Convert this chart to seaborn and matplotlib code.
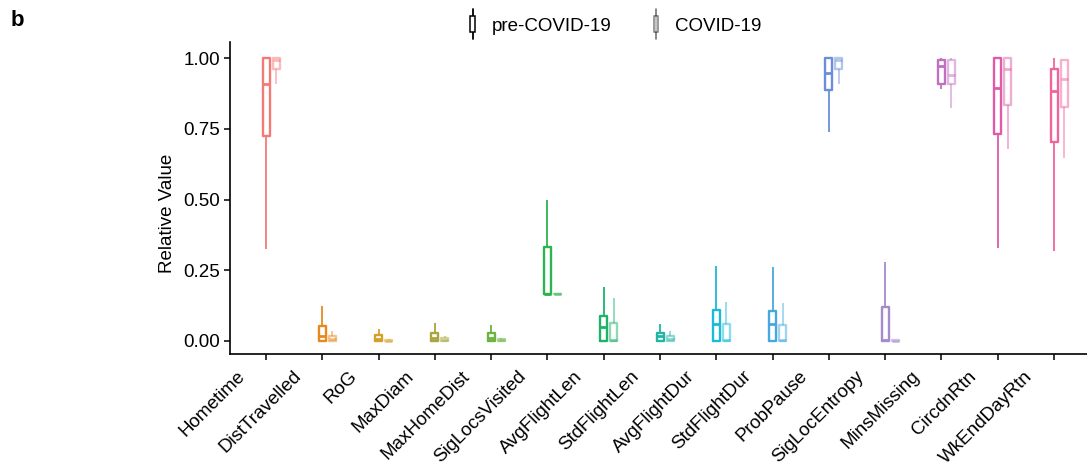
import numpy as np
import pandas as pd
import matplotlib
matplotlib.use("Agg")
import matplotlib.pyplot as plt
import matplotlib.transforms as mtransforms
from matplotlib.legend_handler import HandlerBase
from matplotlib.lines import Line2D
from matplotlib.patches import Rectangle
import seaborn as sns

# ---------------- data (five-number summaries) ----------------
features = ["Hometime", "DistTravelled", "RoG", "MaxDiam", "MaxHomeDist",
            "SigLocsVisited", "AvgFlightLen", "StdFlightLen", "AvgFlightDur",
            "StdFlightDur", "ProbPause", "SigLocEntropy", "MinsMissing",
            "CircdnRtn", "WkEndDayRtn"]
periods = ["pre-COVID-19", "COVID-19"]

# pre-COVID-19: lower whisker, Q1, median, Q3, upper whisker
pre_low = [0.325, 0.0, 0.0, 0.0, 0.0, 0.167, 0.0, 0.0, 0.0, 0.0, 0.74, 0.0, 0.89, 0.328, 0.319]
pre_q1 = [0.725, 0.0, 0.0, 0.0, 0.0, 0.167, 0.0, 0.0, 0.0, 0.0, 0.889, 0.0, 0.91, 0.73, 0.704]
pre_med = [0.908, 0.019, 0.008, 0.012, 0.012, 0.167, 0.05, 0.018, 0.06, 0.06, 0.948, 0.002, 0.972, 0.893, 0.883]
pre_q3 = [1.0, 0.054, 0.021, 0.03, 0.027, 0.333, 0.089, 0.027, 0.11, 0.107, 1.0, 0.121, 0.995, 1.0, 0.961]
pre_high = [1.0, 0.125, 0.041, 0.065, 0.055, 0.5, 0.19, 0.06, 0.265, 0.263, 1.0, 0.28, 1.0, 1.0, 1.0]

# COVID-19
cov_low = [0.907, 0.0, 0.0, 0.0, 0.0, 0.167, 0.0, 0.0, 0.0, 0.0, 0.908, 0.0, 0.824, 0.677, 0.646]
cov_q1 = [0.96, 0.0, 0.0, 0.0, 0.0, 0.167, 0.0, 0.0, 0.0, 0.0, 0.963, 0.0, 0.91, 0.834, 0.826]
cov_med = [0.995, 0.008, 0.001, 0.004, 0.003, 0.167, 0.002, 0.008, 0.002, 0.002, 0.995, 0.001, 0.942, 0.96, 0.925]
cov_q3 = [1.0, 0.019, 0.004, 0.012, 0.008, 0.167, 0.062, 0.018, 0.06, 0.055, 1.0, 0.003, 0.995, 1.0, 0.995]
cov_high = [1.0, 0.035, 0.006, 0.017, 0.012, 0.167, 0.151, 0.036, 0.137, 0.133, 1.0, 0.004, 1.0, 1.0, 0.995]

feature_colors = ["#F47A78", "#E8891E", "#D4A02A", "#A8A63C", "#6DB33F",
                  "#2DB34F", "#1FB26B", "#22B5A5", "#1BBAD8", "#47A8E0",
                  "#6A8FD8", "#A68BCC", "#C070C0", "#DE5CA8", "#F0649E"]

yticks = [0.0, 0.25, 0.5, 0.75, 1.0]

# ---------------- build long table ----------------
rows = []
summaries = {
    periods[0]: [pre_low, pre_q1, pre_med, pre_q3, pre_high],
    periods[1]: [cov_low, cov_q1, cov_med, cov_q3, cov_high],
}
for period, stats in summaries.items():
    for i, feat in enumerate(features):
        for s in stats:
            rows.append({"feature": feat, "period": period, "value": s[i]})
df = pd.DataFrame(rows)

# ---------------- figure ----------------
sns.set_style("ticks")
plt.rcParams["font.family"] = ["Liberation Sans", "DejaVu Sans"]
for k in ["text.color", "axes.labelcolor", "xtick.color", "ytick.color"]:
    plt.rcParams[k] = "black"
FS = 13.5

fig = plt.figure(figsize=(10.87, 4.65), dpi=100)
ax = fig.add_axes([230 / 1087, 1 - 354 / 465, (1087 - 230) / 1087, (354 - 42) / 465])

WIDTH = 0.356
sns.boxplot(data=df, x="feature", y="value", hue="period", order=features,
            hue_order=periods, dodge=True, width=WIDTH, gap=0.3, fill=False,
            whis=(0, 100), showfliers=False, showcaps=False, linewidth=1.7,
            legend=False, ax=ax,
            whiskerprops={"linewidth": 1.3},
            medianprops={"linewidth": 2.0})

# colour each box by its feature; COVID boxes lighter
for line in ax.lines:
    xd = np.asarray(line.get_xdata(), dtype=float)
    if xd.size == 0:
        continue
    m = xd.mean()
    i = int(round(m))
    i = min(max(i, 0), len(features) - 1)
    line.set_color(feature_colors[i])
    line.set_alpha(0.5 if m > i else 1.0)

off = WIDTH / 4
ax.set_xticks(np.arange(len(features)) - off)
ax.set_xticklabels(features, rotation=45, ha="right", va="center",
                   rotation_mode="anchor", fontsize=FS)
ax.set_xlim(-off - 0.64, len(features) - 1 - off + 0.586)
ax.set_ylim(-0.046, 1.057)
ax.set_yticks(yticks)
ax.set_yticklabels([f"{t:.2f}" for t in yticks], fontsize=FS)
ax.set_xlabel("")
ax.set_ylabel("Relative Value", fontsize=FS)
ax.yaxis.set_label_coords((176 - 230) / 857, (354 - 213) / 312)

for side in ["top", "right"]:
    ax.spines[side].set_visible(False)
for side in ["left", "bottom"]:
    ax.spines[side].set_linewidth(1.2)
    ax.spines[side].set_color("black")
ax.tick_params(axis="both", length=4, width=1.1, color="black", pad=3)

# shift x tick labels to mimic ggplot placement
shift = mtransforms.ScaledTranslation(-24 / 100, -10 / 100, fig.dpi_scale_trans)
for lab in ax.get_xticklabels():
    lab.set_transform(lab.get_transform() + shift)


# ---------------- legend ----------------
class BoxHandler(HandlerBase):
    def __init__(self, alpha):
        super().__init__()
        self.alpha = alpha

    def create_artists(self, legend, orig_handle, xdescent, ydescent, width,
                       height, fontsize, trans):
        cx = width / 2 - xdescent
        cy = height / 2 - ydescent
        line = Line2D([cx, cx], [cy - 10.5, cy + 10.5], color="black",
                      alpha=self.alpha, lw=1.3, transform=trans)
        rect = Rectangle((cx - 1.6, cy - 5.5), 3.2, 11, facecolor="white",
                         edgecolor="black", alpha=self.alpha, lw=1.1,
                         transform=trans)
        return [line, rect]


h_pre = Line2D([], [])
h_cov = Line2D([], [])
fig.legend(handles=[h_pre, h_cov], labels=periods,
           handler_map={h_pre: BoxHandler(1.0), h_cov: BoxHandler(0.5)},
           loc="center", bbox_to_anchor=(615 / 1087, 1 - 26 / 465), ncol=2,
           frameon=False, handlelength=0.4, handletextpad=0.8,
           columnspacing=2.2, fontsize=FS)

fig.text(11 / 1087, 1 - 21 / 465, "b", fontsize=16, fontweight="bold",
         ha="left", va="center")

fig.savefig("out.png", dpi=100)
